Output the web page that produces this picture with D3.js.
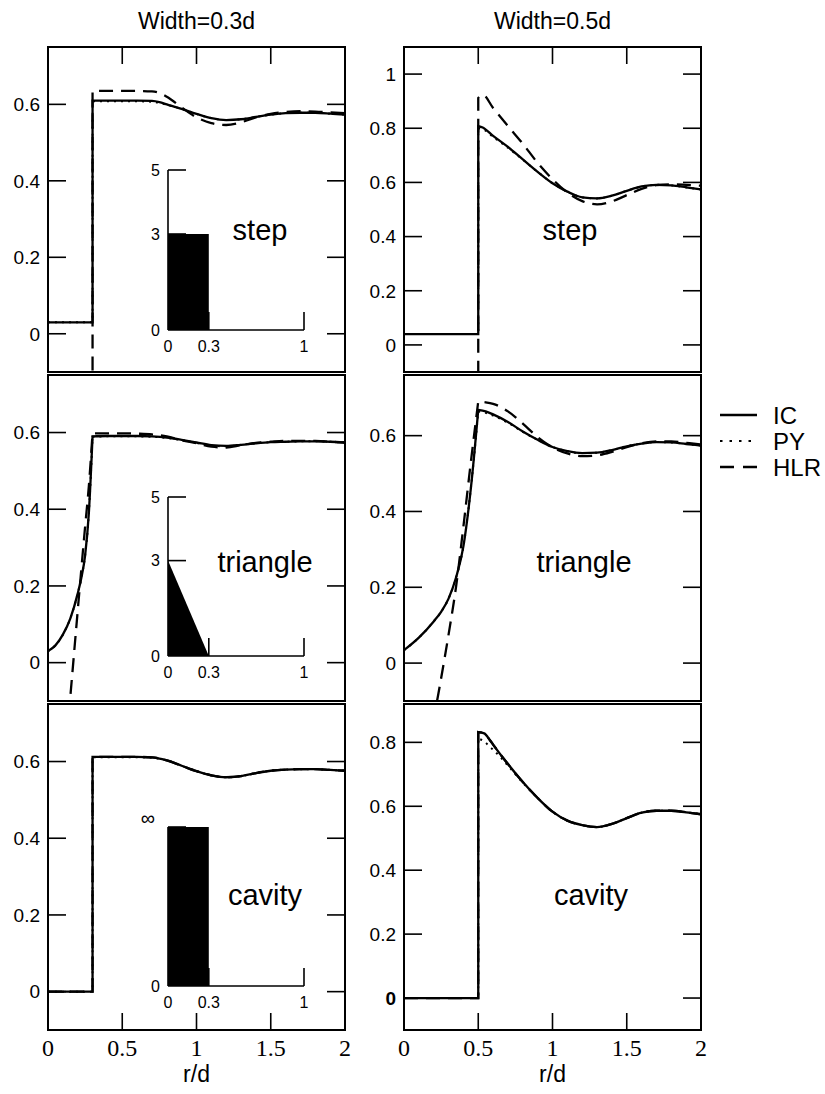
<!DOCTYPE html>
<html><head><meta charset="utf-8">
<script src="https://cdn.jsdelivr.net/npm/d3@7"></script>
<style>body{margin:0;background:#fff}</style>
</head><body><svg id="c" width="825" height="1094"></svg>
<script>
// ---------- DATA ----------
const columnTitles = ["Width=0.3d", "Width=0.5d"];
const xTicks = [0, 0.5, 1, 1.5, 2];
const xTickLabels = ["0", "0.5", "1", "1.5", "2"];
const yTicks06 = [0, 0.2, 0.4, 0.6];
const yTicks08 = [0, 0.2, 0.4, 0.6, 0.8];
const yTicks10 = [0, 0.2, 0.4, 0.6, 0.8, 1];
const seriesNames = ["IC", "PY", "HLR"];

// step, width 0.3
const rS3   = [0, 0.3, 0.3, 0.4, 0.5, 0.6, 0.7, 0.75, 0.8, 0.9, 1.0, 1.1, 1.2, 1.3, 1.4, 1.5, 1.6, 1.7, 1.8, 1.9, 2.0];
const icS3  = [0.03, 0.03, 0.61, 0.61, 0.61, 0.61, 0.609, 0.606, 0.60, 0.588, 0.575, 0.564, 0.559, 0.561, 0.567, 0.573, 0.577, 0.578, 0.578, 0.576, 0.573];
const pyS3  = [0.03, 0.03, 0.608, 0.608, 0.608, 0.608, 0.607, 0.604, 0.599, 0.588, 0.575, 0.564, 0.559, 0.561, 0.567, 0.573, 0.577, 0.578, 0.578, 0.576, 0.573];
const hlrS3 = [-1.0, -0.6, 0.635, 0.635, 0.635, 0.635, 0.634, 0.63, 0.62, 0.592, 0.566, 0.551, 0.546, 0.553, 0.566, 0.575, 0.58, 0.582, 0.581, 0.579, 0.577];

// step, width 0.5
const rS5   = [0, 0.5, 0.5, 0.53, 0.6, 0.7, 0.8, 0.9, 1.0, 1.1, 1.2, 1.3, 1.4, 1.5, 1.6, 1.7, 1.8, 1.9, 2.0];
const icS5  = [0.04, 0.04, 0.808, 0.803, 0.772, 0.731, 0.685, 0.639, 0.597, 0.566, 0.545, 0.541, 0.551, 0.569, 0.585, 0.591, 0.589, 0.582, 0.574];
const pyS5  = [0.04, 0.04, 0.80, 0.797, 0.768, 0.728, 0.684, 0.639, 0.597, 0.566, 0.545, 0.541, 0.551, 0.569, 0.585, 0.591, 0.589, 0.582, 0.574];
const hlrS5 = [-1.0, -0.6, 0.912, 0.924, 0.875, 0.808, 0.743, 0.672, 0.612, 0.563, 0.531, 0.519, 0.53, 0.553, 0.576, 0.59, 0.593, 0.591, 0.588];

// triangle, width 0.3
const rT3   = [0, 0.05, 0.1, 0.15, 0.2, 0.225, 0.25, 0.275, 0.3, 0.3, 0.4, 0.5, 0.6, 0.7, 0.8, 0.9, 1.0, 1.1, 1.2, 1.3, 1.4, 1.5, 1.6, 1.7, 1.8, 1.9, 2.0];
const icT3  = [0.03, 0.045, 0.073, 0.115, 0.18, 0.222, 0.28, 0.39, 0.59, 0.59, 0.591, 0.591, 0.591, 0.59, 0.587, 0.581, 0.574, 0.567, 0.565, 0.568, 0.572, 0.575, 0.576, 0.577, 0.577, 0.576, 0.574];
const pyT3  = [0.03, 0.045, 0.073, 0.115, 0.18, 0.222, 0.28, 0.39, 0.589, 0.589, 0.59, 0.59, 0.59, 0.589, 0.586, 0.58, 0.573, 0.566, 0.564, 0.568, 0.572, 0.575, 0.576, 0.577, 0.577, 0.576, 0.574];
const rT3h  = [0.1, 0.15, 0.2, 0.25, 0.275, 0.3, 0.3, 0.4, 0.5, 0.6, 0.7, 0.8, 0.9, 1.0, 1.1, 1.2, 1.3, 1.4, 1.5, 1.6, 1.7, 1.8, 1.9, 2.0];
const hlrT3 = [-0.31, -0.09, 0.135, 0.355, 0.46, 0.598, 0.598, 0.598, 0.598, 0.597, 0.595, 0.59, 0.58, 0.572, 0.563, 0.561, 0.567, 0.573, 0.576, 0.578, 0.578, 0.578, 0.576, 0.574];

// triangle, width 0.5
const rT5   = [0, 0.1, 0.2, 0.25, 0.3, 0.35, 0.4, 0.45, 0.5, 0.5, 0.55, 0.6, 0.7, 0.8, 0.9, 1.0, 1.1, 1.2, 1.3, 1.4, 1.5, 1.6, 1.7, 1.8, 1.9, 2.0];
const icT5  = [0.034, 0.067, 0.11, 0.135, 0.17, 0.225, 0.308, 0.46, 0.668, 0.668, 0.664, 0.656, 0.636, 0.611, 0.589, 0.57, 0.559, 0.554, 0.555, 0.562, 0.572, 0.579, 0.583, 0.582, 0.578, 0.574];
const pyT5  = [0.034, 0.067, 0.11, 0.135, 0.17, 0.225, 0.308, 0.46, 0.664, 0.664, 0.66, 0.653, 0.634, 0.61, 0.589, 0.57, 0.559, 0.554, 0.555, 0.562, 0.572, 0.579, 0.583, 0.582, 0.578, 0.574];
const rT5h  = [0.15, 0.2, 0.25, 0.3, 0.35, 0.4, 0.45, 0.5, 0.5, 0.55, 0.6, 0.7, 0.8, 0.9, 1.0, 1.1, 1.2, 1.3, 1.4, 1.5, 1.6, 1.7, 1.8, 1.9, 2.0];
const hlrT5 = [-0.27, -0.15, -0.04, 0.075, 0.2, 0.36, 0.53, 0.69, 0.69, 0.688, 0.684, 0.664, 0.632, 0.596, 0.569, 0.553, 0.546, 0.548, 0.557, 0.57, 0.58, 0.585, 0.585, 0.581, 0.577];

// cavity, width 0.3
const rC3   = [0, 0.3, 0.3, 0.4, 0.5, 0.6, 0.7, 0.8, 0.9, 1.0, 1.1, 1.2, 1.3, 1.4, 1.5, 1.6, 1.7, 1.8, 1.9, 2.0];
const icC3  = [0, 0, 0.612, 0.612, 0.612, 0.612, 0.611, 0.603, 0.589, 0.575, 0.564, 0.559, 0.562, 0.57, 0.576, 0.579, 0.58, 0.58, 0.578, 0.576];
const pyC3  = [0, 0, 0.611, 0.611, 0.611, 0.611, 0.61, 0.603, 0.589, 0.575, 0.564, 0.559, 0.562, 0.57, 0.576, 0.579, 0.58, 0.58, 0.578, 0.576];
const hlrC3 = [0, 0, 0.612, 0.612, 0.612, 0.612, 0.611, 0.603, 0.589, 0.575, 0.564, 0.559, 0.562, 0.57, 0.576, 0.579, 0.58, 0.58, 0.578, 0.576];

// cavity, width 0.5
const rC5   = [0, 0.5, 0.5, 0.54, 0.58, 0.6, 0.7, 0.8, 0.9, 1.0, 1.1, 1.2, 1.3, 1.4, 1.5, 1.6, 1.7, 1.8, 1.9, 2.0];
const icC5  = [0, 0, 0.832, 0.828, 0.806, 0.793, 0.732, 0.676, 0.626, 0.583, 0.555, 0.541, 0.535, 0.545, 0.563, 0.58, 0.586, 0.586, 0.581, 0.575];
const pyC5  = [0, 0, 0.812, 0.803, 0.785, 0.777, 0.727, 0.674, 0.626, 0.583, 0.555, 0.541, 0.535, 0.545, 0.563, 0.58, 0.586, 0.586, 0.581, 0.575];
const hlrC5 = [0, 0, 0.832, 0.828, 0.806, 0.793, 0.732, 0.676, 0.626, 0.583, 0.555, 0.541, 0.535, 0.545, 0.563, 0.58, 0.586, 0.586, 0.581, 0.575];

// inset potentials (u vs r/d); cavity height drawn at axis top (infinity)
const insetR = [0, 0.3];
const insetStepU = [3, 3];
const insetTriU = [3, 0];
const insetCavU = [5, 5];
const insetXTicks = [0, 0.3, 1];
const insetXTickLabels = ["0", "0.3", "1"];
const insetYTicks = [0, 3, 5];
const insetYLabelsNum = ["0", "3", "5"];
const insetYLabelsCav = ["0", "", "\u221E"];

// ---------- LAYOUT ----------
const SANS = "Liberation Sans, Arial, Helvetica, sans-serif";
const SERIF = "Liberation Serif, Times New Roman, Times, serif";
const svg = d3.select("#c");
const cols = [[48, 345], [404, 701]];
const rows = [[47, 372], [375, 701], [704, 1030]];
const dashes = {IC: null, PY: "2,5", HLR: "14,8"};

const panels = [
  {row:0, col:0, yd:[-0.1,0.75], yt:yTicks06, ic:[rS3,icS3], py:[rS3,pyS3], hlr:[rS3,hlrS3], label:"step", lx:260, ly:240,
   inset:{u:insetStepU, yr:[330,170], ylab:insetYLabelsNum}},
  {row:0, col:1, yd:[-0.1,1.1], yt:yTicks10, ic:[rS5,icS5], py:[rS5,pyS5], hlr:[rS5,hlrS5], label:"step", lx:570, ly:240},
  {row:1, col:0, yd:[-0.1,0.75], yt:yTicks06, ic:[rT3,icT3], py:[rT3,pyT3], hlr:[rT3h,hlrT3], label:"triangle", lx:265, ly:572,
   inset:{u:insetTriU, yr:[656,497], ylab:insetYLabelsNum}},
  {row:1, col:1, yd:[-0.1,0.76], yt:yTicks06, ic:[rT5,icT5], py:[rT5,pyT5], hlr:[rT5h,hlrT5], label:"triangle", lx:584, ly:572},
  {row:2, col:0, yd:[-0.1,0.75], yt:yTicks06, ic:[rC3,icC3], py:[rC3,pyC3], hlr:[rC3,hlrC3], label:"cavity", lx:265, ly:905,
   inset:{u:insetCavU, yr:[986,827], ylab:insetYLabelsCav}},
  {row:2, col:1, yd:[-0.1,0.92], yt:yTicks08, ic:[rC5,icC5], py:[rC5,pyC5], hlr:[rC5,hlrC5], label:"cavity", lx:591, ly:905, boldZero:true}
];

function runs(rs, vs) {
  const out = []; let cur = [[rs[0], vs[0]]];
  for (let i = 1; i < rs.length; i++) {
    if (rs[i] <= rs[i-1]) { out.push(cur); cur = [[rs[i], vs[i]]]; }
    else cur.push([rs[i], vs[i]]);
  }
  out.push(cur);
  return out;
}

const defs = svg.append("defs");
panels.forEach((p, k) => {
  const [x0, x1] = cols[p.col], [y0, y1] = rows[p.row];
  const x = d3.scaleLinear().domain([0, 2]).range([x0, x1]);
  const y = d3.scaleLinear().domain(p.yd).range([y1, y0]);
  const g = svg.append("g");
  defs.append("clipPath").attr("id", "clip" + k).append("rect")
    .attr("x", x0).attr("y", y0).attr("width", x1 - x0).attr("height", y1 - y0);

  // inset
  if (p.inset) {
    const ix = d3.scaleLinear().domain([0, 1]).range([168, 304]);
    const iy = d3.scaleLinear().domain([0, 5]).range(p.inset.yr);
    const ig = g.append("g");
    ig.append("path").datum(insetR.map((r, i) => [r, p.inset.u[i]]))
      .attr("d", d3.area().x(d => ix(d[0])).y0(iy(0)).y1(d => iy(d[1])))
      .attr("fill", "#000");
    ig.append("line").attr("x1", ix(0)).attr("x2", ix(0)).attr("y1", iy(0)).attr("y2", iy(5))
      .attr("stroke", "#000").attr("stroke-width", 1.6);
    ig.append("line").attr("x1", ix(0)).attr("x2", ix(1)).attr("y1", iy(0)).attr("y2", iy(0))
      .attr("stroke", "#000").attr("stroke-width", 1.6);
    insetXTicks.slice(1).forEach(t => ig.append("line").attr("x1", ix(t)).attr("x2", ix(t))
      .attr("y1", iy(0)).attr("y2", iy(0) - 18).attr("stroke", "#000").attr("stroke-width", 1.6));
    insetYTicks.slice(1).forEach(t => ig.append("line").attr("x1", ix(0)).attr("x2", ix(0) + 18)
      .attr("y1", iy(t)).attr("y2", iy(t)).attr("stroke", "#000").attr("stroke-width", 1.6));
    insetXTicks.forEach((t, i) => ig.append("text").attr("x", ix(t)).attr("y", iy(0) + 22)
      .attr("text-anchor", "middle").style("font-family", SANS).attr("font-size", 16).text(insetXTickLabels[i]));
    insetYTicks.forEach((t, i) => {
      const lab = p.inset.ylab[i];
      if (!lab) return;
      const isInf = lab === "\u221E";
      ig.append("text").attr("x", isInf ? ix(0) - 20 : ix(0) - 8).attr("y", iy(t) + (isInf ? -9 : 0))
        .attr("dy", "0.35em").attr("text-anchor", isInf ? "middle" : "end")
        .style("font-family", SANS).attr("font-size", isInf ? 20 : 16).text(lab);
    });
  }

  // curves
  const lg = g.append("g").attr("clip-path", "url(#clip" + k + ")");
  const line = d3.line().x(d => x(d[0])).y(d => y(d[1])).curve(d3.curveMonotoneX);
  [["HLR", p.hlr], ["PY", p.py], ["IC", p.ic]].forEach(([name, s]) => {
    const parts = runs(s[0], s[1]);
    let dstr = "";
    parts.forEach((pts, i) => {
      let seg = line(pts);
      if (i > 0) seg = "L" + seg.slice(1);
      dstr += seg;
    });
    lg.append("path").attr("d", dstr).attr("fill", "none").attr("stroke", "#000")
      .attr("stroke-width", name === "PY" ? 2 : 2.3)
      .attr("stroke-dasharray", dashes[name]);
  });

  // frame
  g.append("rect").attr("x", x0).attr("y", y0).attr("width", x1 - x0).attr("height", y1 - y0)
    .attr("fill", "none").attr("stroke", "#000").attr("stroke-width", 2);

  // y ticks both sides
  p.yt.forEach(t => {
    g.append("line").attr("x1", x0).attr("x2", x0 + 18).attr("y1", y(t)).attr("y2", y(t))
      .attr("stroke", "#000").attr("stroke-width", 1.6);
    g.append("line").attr("x1", x1 - 18).attr("x2", x1).attr("y1", y(t)).attr("y2", y(t))
      .attr("stroke", "#000").attr("stroke-width", 1.6);
    g.append("text").attr("x", x0 - 8).attr("y", y(t)).attr("dy", "0.36em")
      .attr("text-anchor", "end").style("font-family", SANS).attr("font-size", 19)
      .attr("font-weight", (p.boldZero && t === 0) ? "bold" : "normal")
      .text(String(t));
  });

  // x ticks: top on first row, bottom on last row
  xTicks.slice(1, -1).forEach(t => {
    if (p.row === 0)
      g.append("line").attr("x1", x(t)).attr("x2", x(t)).attr("y1", y0).attr("y2", y0 + 17)
        .attr("stroke", "#000").attr("stroke-width", 1.6);
    if (p.row === 2)
      g.append("line").attr("x1", x(t)).attr("x2", x(t)).attr("y1", y1).attr("y2", y1 - 17)
        .attr("stroke", "#000").attr("stroke-width", 1.6);
  });
  if (p.row === 2) {
    xTicks.forEach((t, i) => g.append("text").attr("x", x(t)).attr("y", 1056)
      .attr("text-anchor", "middle").style("font-family", SERIF).attr("font-size", 24).text(xTickLabels[i]));
    g.append("text").attr("x", (x0 + x1) / 2).attr("y", 1082).attr("text-anchor", "middle")
      .style("font-family", SANS).attr("font-size", 23).text("r/d");
  }
  if (p.row === 0) {
    g.append("text").attr("x", (x0 + x1) / 2).attr("y", 29).attr("text-anchor", "middle")
      .style("font-family", SANS).attr("font-size", 23).text(columnTitles[p.col]);
  }

  // panel label
  g.append("text").attr("x", p.lx).attr("y", p.ly).attr("text-anchor", "middle")
    .style("font-family", SANS).attr("font-size", 29).text(p.label);
});

// legend
const leg = svg.append("g");
seriesNames.forEach((n, i) => {
  const yy = 415 + i * 26;
  leg.append("line").attr("x1", 720).attr("x2", 757).attr("y1", yy).attr("y2", yy)
    .attr("stroke", "#000").attr("stroke-width", n === "PY" ? 2.2 : 2.5)
    .attr("stroke-dasharray", n === "PY" ? "2.5,7" : (n === "HLR" ? "14,9" : null));
  leg.append("text").attr("x", 773).attr("y", yy).attr("dy", "0.36em")
    .style("font-family", SANS).attr("font-size", 24).text(n);
});
</script>
</body></html>
